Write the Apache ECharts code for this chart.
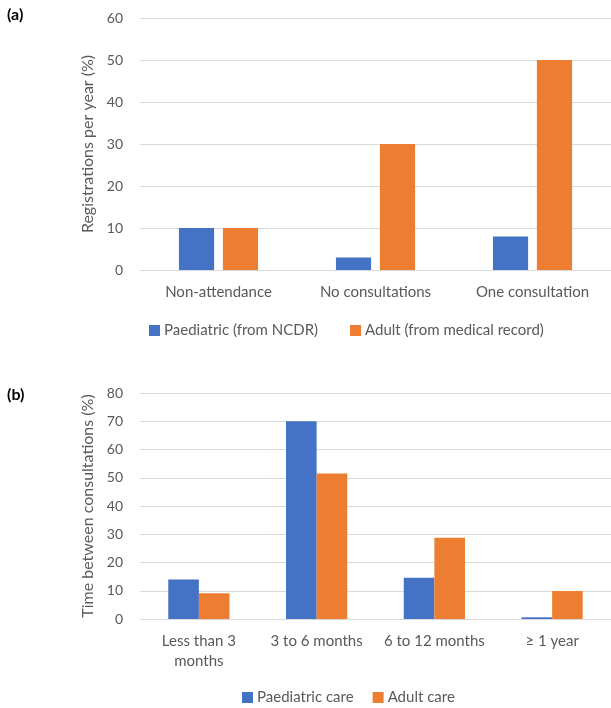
<!DOCTYPE html>
<html>
<head>
<meta charset="utf-8">
<script src="https://cdn.jsdelivr.net/npm/echarts@6/dist/echarts.min.js"></script>
<style>
html,body{margin:0;padding:0;background:#fff;}
#chart{width:611px;height:708px;}
</style>
</head>
<body>
<div id="chart"></div>
<script>
// Panel (a)
const categoriesA = ['Non-attendance', 'No consultations', 'One consultation'];
const paediatricA = [10, 3, 8];
const adultA = [10, 30, 50];
const seriesNamesA = ['Paediatric (from NCDR)', 'Adult (from medical record)'];
const yTicksA = { min: 0, max: 60, interval: 10 };

// Panel (b)
const categoriesB = ['Less than 3\nmonths', '3 to 6 months', '6 to 12 months', '\u2265 1 year'];
const paediatricB = [14, 70, 14.6, 0.6];
const adultB = [9.1, 51.5, 28.8, 9.9];
const seriesNamesB = ['Paediatric care', 'Adult care'];
const yTicksB = { min: 0, max: 80, interval: 10 };

const FONT = 'Lato';
const TXT = '#595959';
const GRID = '#d9d9d9';
const BLUE = '#4472C4';
const ORANGE = '#ED7D31';

const chart = echarts.init(document.getElementById('chart'), null, { renderer: 'canvas' });

function yAxis(gridIndex, ticks, name) {
  return {
    type: 'value', gridIndex: gridIndex, min: ticks.min, max: ticks.max, interval: ticks.interval,
    name: name, nameLocation: 'middle', nameGap: 34,
    nameTextStyle: { color: TXT, fontFamily: FONT, fontSize: 16 },
    axisLine: { show: false }, axisTick: { show: false },
    axisLabel: { color: TXT, fontFamily: FONT, fontSize: 14, margin: 17 },
    splitLine: { lineStyle: { color: GRID, width: 1 } }
  };
}
function xAxis(gridIndex, cats, margin) {
  return {
    type: 'category', gridIndex: gridIndex, data: cats,
    axisLine: { lineStyle: { color: GRID } }, axisTick: { show: false },
    axisLabel: { color: TXT, fontFamily: FONT, fontSize: 15, margin: margin, lineHeight: 20, interval: 0 }
  };
}

chart.setOption({
  animation: false,
  backgroundColor: '#fff',
  title: [
    { text: '(a)', left: 2, top: 2, textStyle: { fontFamily: FONT, fontSize: 16, fontWeight: 'bold', color: '#000' } },
    { text: '(b)', left: 2, top: 382, textStyle: { fontFamily: FONT, fontSize: 16, fontWeight: 'bold', color: '#000' } }
  ],
  grid: [
    { left: 140, top: 18, width: 476, height: 252 },
    { left: 140, top: 393, width: 476, height: 226 }
  ],
  xAxis: [xAxis(0, categoriesA, 12), xAxis(1, categoriesB, 12)],
  yAxis: [yAxis(0, yTicksA, 'Registrations per year (%)'), yAxis(1, yTicksB, 'Time between consultations (%)')],
  legend: [
    { data: seriesNamesA, left: 144, top: 318, itemWidth: 11, itemHeight: 11, itemGap: 32, icon: 'rect',
      textStyle: { color: TXT, fontFamily: FONT, fontSize: 15, padding: [0, 0, 0, -1] } },
    { data: seriesNamesB, left: 237, top: 685, itemWidth: 11, itemHeight: 11, itemGap: 19, icon: 'rect',
      textStyle: { color: TXT, fontFamily: FONT, fontSize: 15, padding: [0, 0, 0, -1] } }
  ],
  series: [
    { name: seriesNamesA[0], type: 'bar', xAxisIndex: 0, yAxisIndex: 0, data: paediatricA, barWidth: '22.4%', barGap: '25%', itemStyle: { color: BLUE } },
    { name: seriesNamesA[1], type: 'bar', xAxisIndex: 0, yAxisIndex: 0, data: adultA, barWidth: '22.4%', barGap: '25%', itemStyle: { color: ORANGE } },
    { name: seriesNamesB[0], type: 'bar', xAxisIndex: 1, yAxisIndex: 1, data: paediatricB, barWidth: '26%', barGap: '0%', itemStyle: { color: BLUE } },
    { name: seriesNamesB[1], type: 'bar', xAxisIndex: 1, yAxisIndex: 1, data: adultB, barWidth: '26%', barGap: '0%', itemStyle: { color: ORANGE } }
  ]
});
</script>
</body>
</html>
